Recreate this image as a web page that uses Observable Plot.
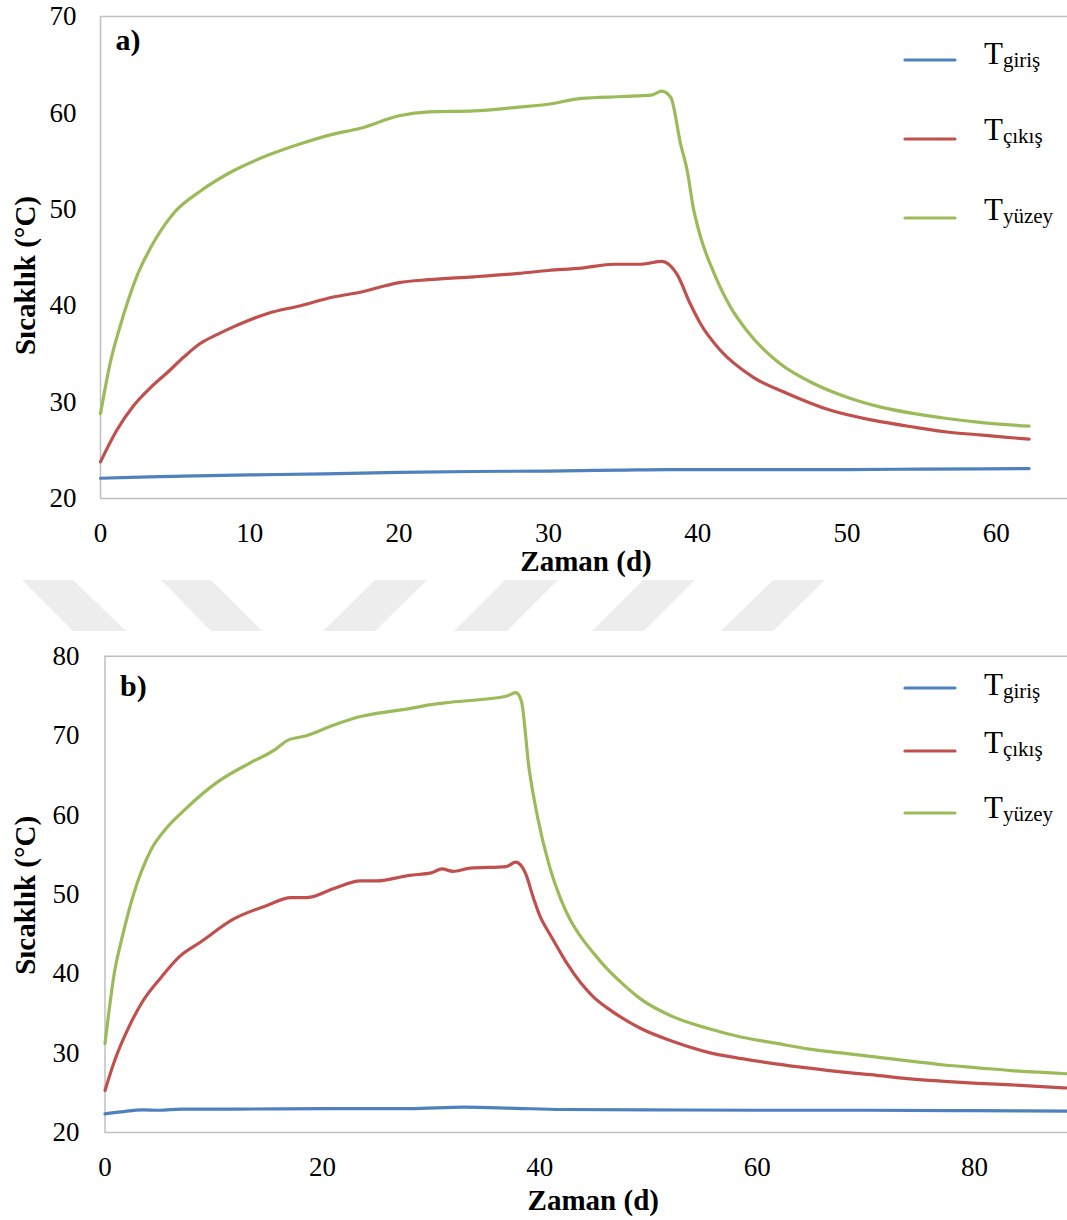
<!DOCTYPE html>
<html>
<head>
<meta charset="utf-8">
<script src="https://cdn.jsdelivr.net/npm/d3@7"></script>
<script src="https://cdn.jsdelivr.net/npm/@observablehq/plot@0.6"></script>
<style>
  body { margin: 0; background: #fff; }
  #root { position: relative; width: 1067px; height: 1220px; overflow: hidden; font-family: "Liberation Serif", "Times New Roman", serif; }
  #root > * { position: absolute; left: 0; }
  #panelA { top: 0; z-index: 1; }
  #panelB { top: 580px; z-index: 1; }
  #wm { top: 0; z-index: 0; }
  #legend { top: 0; z-index: 2; }
  #root svg text { font-family: "Liberation Serif", "Times New Roman", serif; }
</style>
</head>
<body>
<div id="root">
  <div id="panelA"></div>
  <div id="panelB"></div>
</div>
<script>
// ---------- data ----------
const seriesKeys = ["giriş", "çıkış", "yüzey"];
const seriesColors = ["#4F81BD", "#C0504D", "#9BBB59"];
const xLabel = "Zaman (d)";
const yLabel = "Sıcaklık (°C)";
const panelNames = ["a)", "b)"];

const xTicksA = [0, 10, 20, 30, 40, 50, 60];
const yTicksA = [20, 30, 40, 50, 60, 70];
const xTicksB = [0, 20, 40, 60, 80];
const yTicksB = [20, 30, 40, 50, 60, 70, 80];

// panel a) [time (d), temperature (°C)]
const aGiris = [[0,22.1],[2,22.2],[5,22.3],[10,22.45],[15,22.55],[20,22.7],[25,22.8],[30,22.85],[35,22.95],[38,23.0],[45,23.0],[50,23.0],[55,23.05],[62.2,23.1]];
const aCikis = [[0,23.8],[1.1,27.1],[2.2,29.6],[3.35,31.5],[4.5,33.1],[5.6,34.7],[6.7,36.1],[7.8,37.0],[8.9,37.8],[11.2,39.2],[13.4,40.0],[15.6,40.9],[17.4,41.4],[20,42.4],[22,42.7],[25,43.0],[28,43.35],[30,43.65],[32.2,43.9],[34.4,44.3],[36.2,44.3],[37.6,44.6],[38.6,43.3],[39.5,40.2],[40.2,38.1],[41.5,35.4],[43.7,32.6],[46,30.9],[48.9,29.15],[51.8,28.1],[54.5,27.4],[56.7,26.9],[58.9,26.6],[62.2,26.15]];
const aYuzey = [[0,28.8],[0.67,34.2],[1.34,38.0],[1.8,40.3],[2.5,43.3],[3.35,46.0],[4.9,49.6],[6.7,51.9],[8.9,54.0],[11.2,55.6],[13.4,56.8],[15.6,57.8],[17.4,58.4],[20,59.7],[22,60.1],[25,60.2],[28,60.6],[30,60.9],[32.2,61.5],[35,61.7],[36.9,61.85],[37.6,62.25],[38.2,61.6],[38.85,56.8],[39.3,54.0],[39.7,50.2],[40.2,47.1],[41.1,43.35],[42.2,39.85],[43.3,37.4],[45.5,34.0],[47.8,31.9],[50,30.5],[52.2,29.5],[54.5,28.8],[56.7,28.3],[58.9,27.9],[62.2,27.5]];

// panel b)
const bGiris = [[0,22.35],[1.5,22.6],[3.5,22.85],[5,22.8],[7,22.95],[12,22.95],[20,23.0],[28,23.0],[33,23.2],[37.7,23.05],[42,22.9],[50,22.85],[60,22.8],[70,22.8],[80,22.75],[88.55,22.7]];
const bCikis = [[0,25.3],[0.9,29.1],[2.2,33.3],[3.5,36.6],[5.2,39.6],[6.8,42.1],[8.8,44.0],[11.85,46.9],[14.9,48.6],[17.1,49.6],[18.6,49.6],[21,50.7],[23.5,51.7],[25,51.7],[28,52.4],[30,52.7],[31,53.2],[32,52.9],[33.6,53.3],[36.9,53.5],[37.8,54.05],[38.7,52.6],[39.4,49.6],[40.1,47.0],[40.7,45.5],[41.3,44.1],[42.5,41.3],[43.8,38.8],[45,37.0],[46.2,35.7],[49.3,33.1],[52.4,31.4],[55.5,30.1],[58.6,29.3],[61.7,28.65],[64.8,28.1],[67.9,27.6],[71,27.2],[74.1,26.75],[77.2,26.45],[80.3,26.2],[83.4,26.0],[88.55,25.6]];
const bYuzey = [[0,31.2],[0.9,40.4],[1.58,44.6],[2.65,50.1],[4.19,55.5],[5.72,58.45],[7.25,60.55],[10.3,64.1],[13.4,66.6],[15.5,68.1],[16.8,69.4],[18.6,70.0],[21,71.3],[23.5,72.4],[25,72.8],[28,73.4],[30,73.9],[31.8,74.2],[36.9,74.95],[37.8,75.4],[38.3,74.4],[39.0,66.0],[39.8,59.7],[40.9,53.5],[41.9,49.5],[42.8,46.8],[43.8,44.6],[45.0,42.5],[46.2,40.6],[47.4,39.0],[49.3,36.8],[52.4,34.5],[55.5,33.1],[58.6,32.0],[61.7,31.25],[64.8,30.5],[67.9,30.0],[71,29.5],[74.1,29.0],[77.2,28.5],[80.3,28.15],[83.4,27.8],[88.55,27.4]];

// ---------- drawing ----------
const FONT = "Liberation Serif, Times New Roman, serif";
const frameColor = "#BFBFBF";

function panel(cfg) {
  const series = [cfg.giris, cfg.cikis, cfg.yuzey];
  return Plot.plot({
    width: 1067,
    height: cfg.height,
    marginTop: cfg.mt,
    marginBottom: cfg.mb,
    marginLeft: cfg.ml,
    marginRight: 0,
    x: { domain: cfg.xDomain },
    y: { domain: [cfg.yTicks[0], cfg.yTicks[cfg.yTicks.length - 1]] },
    style: { fontFamily: FONT, fontSize: "27px", color: "#000", background: "transparent", overflow: "visible" },
    marks: [
      Plot.ruleX([cfg.xDomain[0]], { stroke: frameColor, strokeWidth: 1.5 }),
      Plot.ruleY([cfg.yTicks[0], cfg.yTicks[cfg.yTicks.length - 1]], { stroke: frameColor, strokeWidth: 1.5 }),
      Plot.axisX({ ticks: cfg.xTicks, tickSize: 0, tickPadding: 24, label: null, fontSize: 27, fontFamily: FONT, fontVariant: "normal", fill: "#000", tickFormat: d => String(d) }),
      Plot.axisY({ ticks: cfg.yTicks, tickSize: 0, tickPadding: cfg.ytp, label: null, fontSize: 27, fontFamily: FONT, fontVariant: "normal", fill: "#000", tickFormat: d => String(d) }),
      ...series.map((s, i) => Plot.line(s, {
        x: d => d[0], y: d => d[1], stroke: seriesColors[i], strokeWidth: 3.2,
        curve: "monotone-x", strokeLinecap: "round", strokeLinejoin: "round"
      })),
      Plot.text([xLabel], { text: d => d, frameAnchor: "bottom", dx: cfg.xtdx, dy: cfg.xtdy, fontWeight: "bold", fontSize: 29, fontFamily: FONT, lineAnchor: "middle", fill: "#000" }),
      Plot.text([yLabel], { text: d => d, frameAnchor: "left", textAnchor: "middle", dx: cfg.ytdx, dy: cfg.ytdy, rotate: -90, fontWeight: "bold", fontSize: 29, fontFamily: FONT, lineAnchor: "middle", fill: "#000" }),
      Plot.text([cfg.name], { text: d => d, frameAnchor: "top-left", dx: 15, dy: cfg.ndy, textAnchor: "start", lineAnchor: "bottom", fontWeight: "bold", fontSize: 30, fontFamily: FONT, fill: "#000" })
    ]
  });
}

document.getElementById("panelA").append(panel({
  giris: aGiris, cikis: aCikis, yuzey: aYuzey,
  height: 580, mt: 16, mb: 82, ml: 100, ytp: 24,
  xDomain: [0, 64.77], xTicks: xTicksA, yTicks: yTicksA,
  xtdx: 2, xtdy: 63, ytdx: -75, ytdy: 18, name: panelNames[0], ndy: 33.5
}));

document.getElementById("panelB").append(panel({
  giris: bGiris, cikis: bCikis, yuzey: bYuzey,
  height: 640, mt: 75.7, mb: 88, ml: 104.5, ytp: 25.5,
  xDomain: [0, 88.55], xTicks: xTicksB, yTicks: yTicksB,
  xtdx: 7, xtdy: 68, ytdx: -79.5, ytdy: 1, name: panelNames[1], ndy: 39.3
}));

// watermark (decorative) between the panels
const root = d3.select("#root");
const wm = root.append("svg").attr("id", "wm").attr("width", 1067).attr("height", 1220);
const wmShapes = [
  [[22,580],[73,580],[126,631],[73,631]],
  [[161,580],[211,580],[262,631],[211,631]],
  [[375,580],[427,580],[375,631],[323,631]],
  [[505,580],[558,580],[507,631],[454,631]],
  [[643,580],[695,580],[644,631],[592,631]],
  [[773,580],[825,580],[773,631],[721,631]]
];
wm.selectAll("polygon").data(wmShapes).join("polygon")
  .attr("points", d => d.map(p => p.join(",")).join(" "))
  .attr("fill", "#EDEDED");

// legends
const legend = root.append("svg").attr("id", "legend").attr("width", 1067).attr("height", 1220)
  .style("pointer-events", "none");
const legendLayout = [
  { lineY: [60, 139, 218], textY: [64, 140, 220] },
  { lineY: [688, 751, 813], textY: [695, 753, 818] }
];
legendLayout.forEach(L => {
  seriesKeys.forEach((k, i) => {
    legend.append("line")
      .attr("x1", 905).attr("x2", 955)
      .attr("y1", L.lineY[i]).attr("y2", L.lineY[i])
      .attr("stroke", seriesColors[i]).attr("stroke-width", 3.2).attr("stroke-linecap", "round");
    const t = legend.append("text")
      .attr("x", 984).attr("y", L.textY[i])
      .attr("font-family", FONT).attr("font-size", 31).attr("fill", "#000");
    t.append("tspan").text("T");
    t.append("tspan").attr("font-size", 21).attr("dy", 3).text(k);
  });
});
</script>
</body>
</html>
